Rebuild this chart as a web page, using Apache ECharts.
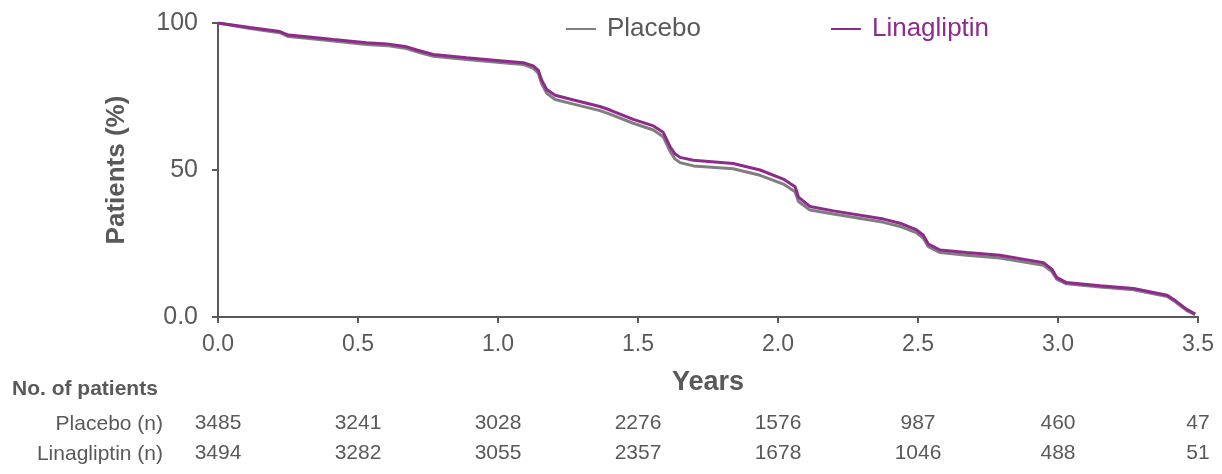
<!DOCTYPE html>
<html>
<head>
<meta charset="utf-8">
<script src="https://cdn.jsdelivr.net/npm/echarts@6/dist/echarts.min.js"></script>
<style>html,body{margin:0;padding:0;background:#fff;}#c{width:1222px;height:474px;}</style>
</head>
<body>
<div id="c"></div>
<script>
// ---- data ----
var years = [0, 0.114, 0.221, 0.251, 0.317, 0.412, 0.531, 0.603, 0.674, 0.710, 0.769, 0.888, 1.007, 1.090, 1.126, 1.144, 1.156, 1.174, 1.204, 1.27, 1.364, 1.40, 1.483, 1.555, 1.59, 1.602, 1.614, 1.632, 1.65, 1.698, 1.84, 1.936, 2.019, 2.061, 2.073, 2.114, 2.198, 2.377, 2.436, 2.495, 2.519, 2.537, 2.579, 2.674, 2.793, 2.948, 2.978, 2.995, 3.03, 3.15, 3.27, 3.39, 3.42, 3.46, 3.49];
var placeboPct = [100, 98.1, 96.7, 95.4, 94.8, 93.9, 92.7, 92.3, 91.3, 90.2, 88.7, 87.6, 86.6, 85.9, 84.6, 82.9, 79.3, 76.1, 74.0, 72.4, 70.2, 69.0, 65.9, 63.6, 61.3, 58.9, 56.4, 53.8, 52.5, 51.4, 50.4, 48.2, 45.2, 42.6, 39.3, 36.4, 35.0, 32.2, 30.8, 28.6, 26.8, 23.9, 21.9, 21.0, 20.1, 17.6, 15.5, 12.9, 11.3, 10.2, 9.3, 7.0, 5.1, 2.2, 0.8];
var linaPct = [100, 98.5, 97.1, 95.9, 95.3, 94.4, 93.3, 92.9, 91.9, 90.8, 89.3, 88.2, 87.2, 86.5, 85.4, 83.9, 80.5, 77.4, 75.4, 73.8, 71.6, 70.4, 67.2, 65.0, 62.8, 60.4, 58.0, 55.5, 54.3, 53.3, 52.2, 50.0, 46.9, 44.3, 40.8, 37.6, 36.1, 33.3, 31.9, 29.6, 27.8, 24.8, 22.8, 21.9, 21.0, 18.5, 16.3, 13.5, 11.7, 10.6, 9.7, 7.4, 5.5, 2.6, 1.0];
var atRiskYears = [0, 0.5, 1.0, 1.5, 2.0, 2.5, 3.0, 3.5];
var placeboN = [3485, 3241, 3028, 2276, 1576, 987, 460, 47];
var linaN = [3494, 3282, 3055, 2357, 1678, 1046, 488, 51];
var seriesNames = ['Placebo', 'Linagliptin'];

// ---- chart ----
var FONT = '"Liberation Sans", Arial, Helvetica, sans-serif';
var TXT = '#595959';
var GRAY = '#7f7f7f';
var PURPLE = '#8e2a8c';

function zip(xs, ys) { return xs.map(function (x, i) { return [x, ys[i]]; }); }
function nAt(arr) {
  return function (v) {
    var i = atRiskYears.findIndex(function (t) { return Math.abs(t - v) < 1e-6; });
    return i >= 0 ? String(arr[i]) : '';
  };
}
var xBase = { type: 'value', min: 0, max: 3.5, interval: 0.5, gridIndex: 0, splitLine: { show: false } };
function tableAxis(arr, offset) {
  return Object.assign({}, xBase, {
    position: 'bottom', offset: offset,
    axisLine: { show: false }, axisTick: { show: false },
    axisLabel: { show: true, showMinLabel: true, showMaxLabel: true, margin: 8, color: TXT, fontSize: 21, fontFamily: FONT, formatter: nAt(arr) }
  });
}

var chart = echarts.init(document.getElementById('c'), null, { renderer: 'canvas' });
chart.setOption({
  backgroundColor: '#fff',
  animation: false,
  textStyle: { fontFamily: FONT },
  grid: { left: 218, right: 24, top: 23, bottom: 157 },
  legend: {
    left: 561, top: 11, itemGap: 130, itemWidth: 30, itemHeight: 2, icon: 'rect',
    textStyle: { fontSize: 26, fontFamily: FONT, padding: [0, 0, 0, 6] },
    data: [
      { name: seriesNames[0], textStyle: { color: TXT } },
      { name: seriesNames[1], textStyle: { color: PURPLE } }
    ]
  },
  xAxis: [
    Object.assign({}, xBase, {
      name: 'Years', nameLocation: 'middle', nameGap: 52,
      nameTextStyle: { fontSize: 27, fontWeight: 'bold', color: TXT, fontFamily: FONT },
      axisLine: { show: true, lineStyle: { color: TXT, width: 2 } },
      axisTick: { show: true, inside: false, length: 6, lineStyle: { color: TXT, width: 2 } },
      axisLabel: { margin: 16, color: TXT, fontSize: 23, fontFamily: FONT, showMinLabel: true, showMaxLabel: true,
        formatter: function (v) { return v.toFixed(1); } }
    }),
    tableAxis(placeboN, 88),
    tableAxis(linaN, 118)
  ],
  yAxis: {
    type: 'value', min: 0, max: 100, interval: 50,
    name: 'Patients (%)', nameLocation: 'middle', nameGap: 88, nameRotate: 90,
    nameTextStyle: { fontSize: 26, fontWeight: 'bold', color: TXT, fontFamily: FONT },
    splitLine: { show: false },
    axisLine: { show: true, lineStyle: { color: TXT, width: 2 } },
    axisTick: { show: true, inside: false, length: 6, lineStyle: { color: TXT, width: 2 } },
    axisLabel: { margin: 20, color: TXT, fontSize: 25, fontFamily: FONT,
      formatter: function (v) { return v === 0 ? '0.0' : String(v); } }
  },
  graphic: [
    { type: 'text', left: 12, top: 379, style: { text: 'No. of patients', fontSize: 21, fontWeight: 'bold', fill: TXT, fontFamily: FONT } },
    { type: 'text', x: 163, y: 424, style: { text: 'Placebo (n)', fontSize: 21, fill: TXT, fontFamily: FONT, align: 'right', verticalAlign: 'middle' } },
    { type: 'text', x: 163, y: 454, style: { text: 'Linagliptin (n)', fontSize: 21, fill: TXT, fontFamily: FONT, align: 'right', verticalAlign: 'middle' } }
  ],
  series: [
    { name: seriesNames[0], type: 'line', xAxisIndex: 0, data: zip(years, placeboPct), showSymbol: false, symbol: 'none',
      lineStyle: { color: GRAY, width: 3 }, itemStyle: { color: GRAY }, z: 2 },
    { name: seriesNames[1], type: 'line', xAxisIndex: 0, data: zip(years, linaPct), showSymbol: false, symbol: 'none',
      lineStyle: { color: PURPLE, width: 3 }, itemStyle: { color: PURPLE }, z: 3 }
  ]
});
</script>
</body>
</html>
